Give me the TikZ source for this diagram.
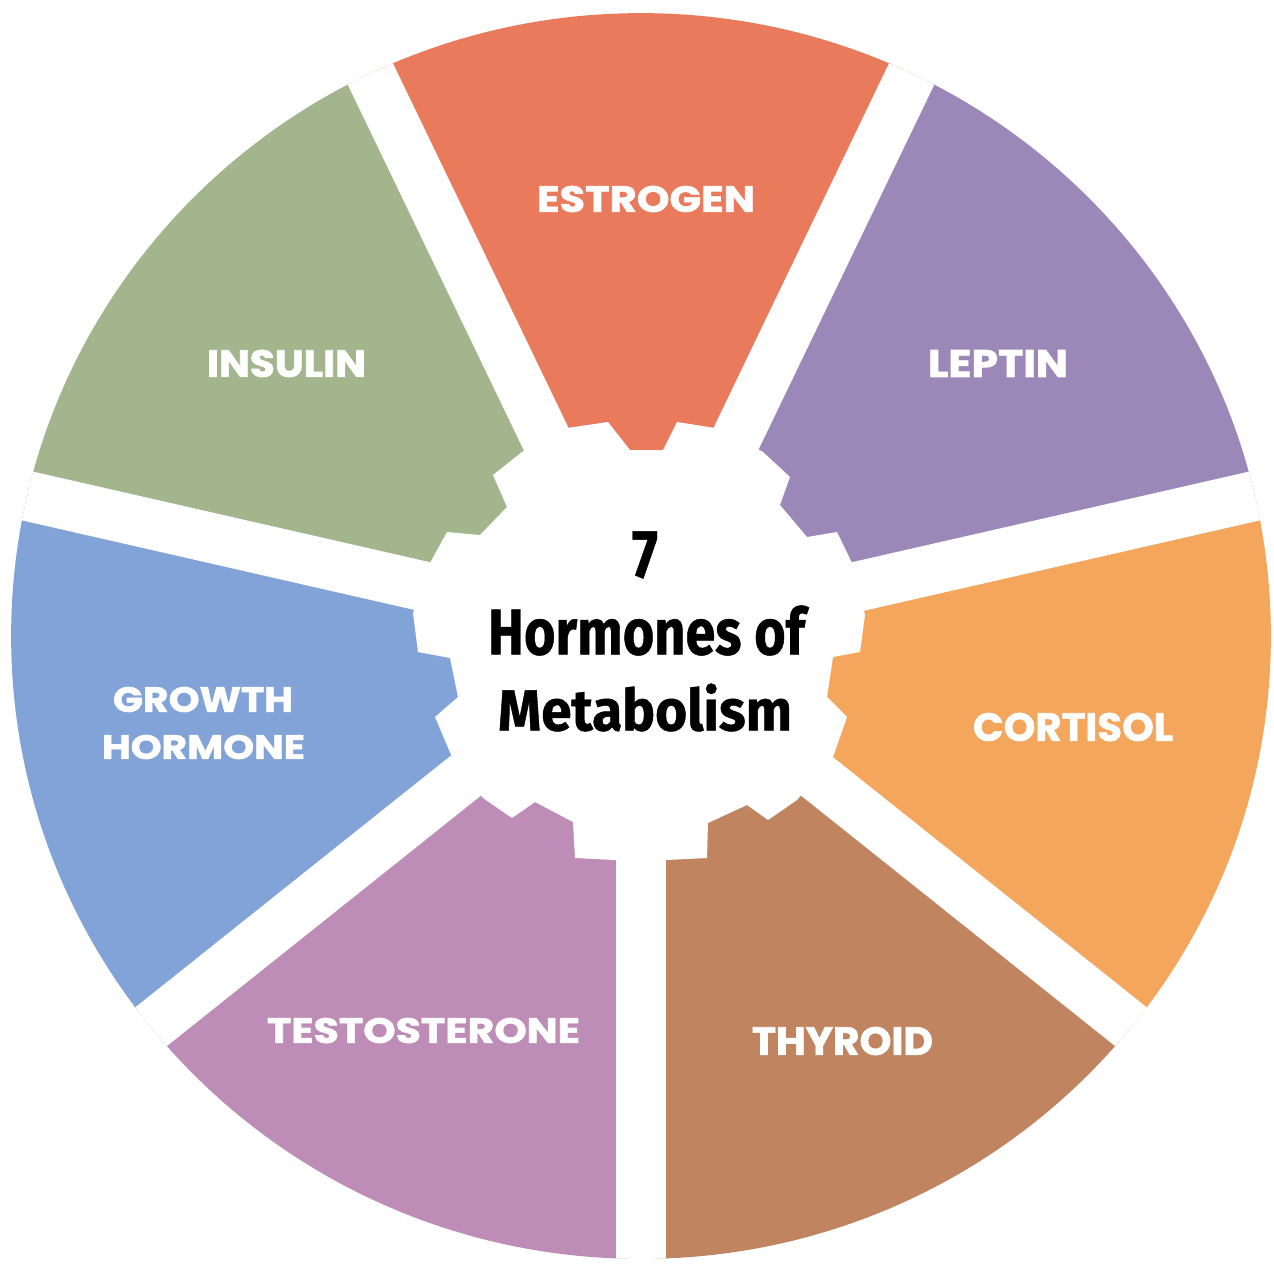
\documentclass[tikz,border=0pt]{standalone}
\usepackage{fontspec}
\usepackage{graphicx}
\newfontfamily\labfont{Poppins}[BoldFeatures={FakeBold=1.6}]
\newfontfamily\cenfont{Fira Sans}[BoldFeatures={FakeBold=0.8}]
\definecolor{cEstrogen}{HTML}{EA7A5C}
\definecolor{cLeptin}{HTML}{9B88B9}
\definecolor{cCortisol}{HTML}{F4A65C}
\definecolor{cThyroid}{HTML}{C08461}
\definecolor{cTestosterone}{HTML}{BE8DB7}
\definecolor{cGrowth}{HTML}{82A3D7}
\definecolor{cInsulin}{HTML}{A2B58C}
\begin{document}
\begin{tikzpicture}[x=0.02cm,y=-0.02cm,
  lab/.style={text=white, inner sep=0pt, font=\labfont\bfseries},
  cen/.style={text=black, inner sep=0pt, font=\cenfont\bfseries},
  gapband/.style={white, line width=1cm}]
\fill[white] (0,0) rectangle (1274,1270);
\useasboundingbox (0,0) rectangle (1274,1270);
\coordinate (c) at (641,636);
\begin{scope}
  \clip (641,636) ellipse [x radius=12.6cm, y radius=12.46cm];
  \foreach \a/\b/\col in {-38.5714/12.8571/cCortisol, 12.8571/64.2857/cLeptin,
      64.2857/115.7143/cEstrogen, 115.7143/167.1429/cInsulin,
      167.1429/218.5714/cGrowth, 218.5714/270/cTestosterone, 270/321.4286/cThyroid}{
    \fill[\col] (c) -- ({641+1000*cos(\a)},{636-1000*sin(\a)})
      -- ({641+1000*cos((\a+\b)/2)},{636-1000*sin((\a+\b)/2)})
      -- ({641+1000*cos(\b)},{636-1000*sin(\b)}) -- cycle;
  }
  \foreach \g in {270, 321.4286, 12.8571, 64.2857, 115.7143, 167.1429, 218.5714}{
    \coordinate (gend) at ({641+1000*cos(\g)},{636-1000*sin(\g)});
    \draw[gapband] (c) -- (gend);
  }
\end{scope}
% central gear
\fill[white] (567,428) -- (608,422) -- (630,450) -- (663,450) -- (677,422) -- (715,428)
  -- (763,452) -- (790,477) -- (780,505) -- (807,537) -- (837,532) -- (853,565)
  -- (865,615) -- (860,652) -- (833,657) -- (827,697) -- (847,717) -- (833,757)
  -- (797,800) -- (768,820) -- (747,805) -- (708,823) -- (707,858) -- (667,860)
  -- (615,860) -- (575,858) -- (573,822) -- (535,802) -- (512,818) -- (483,798)
  -- (452,757) -- (435,717) -- (458,697) -- (450,658) -- (418,652) -- (413,613)
  -- (430,563) -- (447,532) -- (480,535) -- (507,507) -- (493,475) -- (522,452) -- cycle;
% labels
\node[lab] (estrogen) at (646,199) {\resizebox{4.36cm}{0.52cm}{ESTROGEN}};
\node[lab] (insulin) at (286.5,363.5) {\resizebox{3.18cm}{0.54cm}{INSULIN}};
\node[lab] (leptin) at (998,363.5) {\resizebox{2.8cm}{0.54cm}{LEPTIN}};
\node[lab] (cortisol) at (1073,727) {\resizebox{4.0cm}{0.56cm}{CORTISOL}};
\node[lab] (thyroid) at (842.5,1041) {\resizebox{3.62cm}{0.56cm}{THYROID}};
\node[lab] (testosterone) at (423.5,1030.5) {\resizebox{6.26cm}{0.5cm}{TESTOSTERONE}};
\node[lab] (growth) at (203,699.5) {\resizebox{3.6cm}{0.5cm}{GROWTH}};
\node[lab] (hormone) at (203.5,747) {\resizebox{4.06cm}{0.48cm}{HORMONE}};
% centre title
\node[cen] (seven) at (645,555) {\resizebox{0.52cm}{0.92cm}{7}};
\node[cen] (hormones) at (646.5,630.5) {\resizebox{6.34cm}{0.98cm}{Hormones of}};
\node[cen] (metabolism) at (645,707.5) {\resizebox{5.88cm}{0.94cm}{Metabolism}};
\end{tikzpicture}
\end{document}
